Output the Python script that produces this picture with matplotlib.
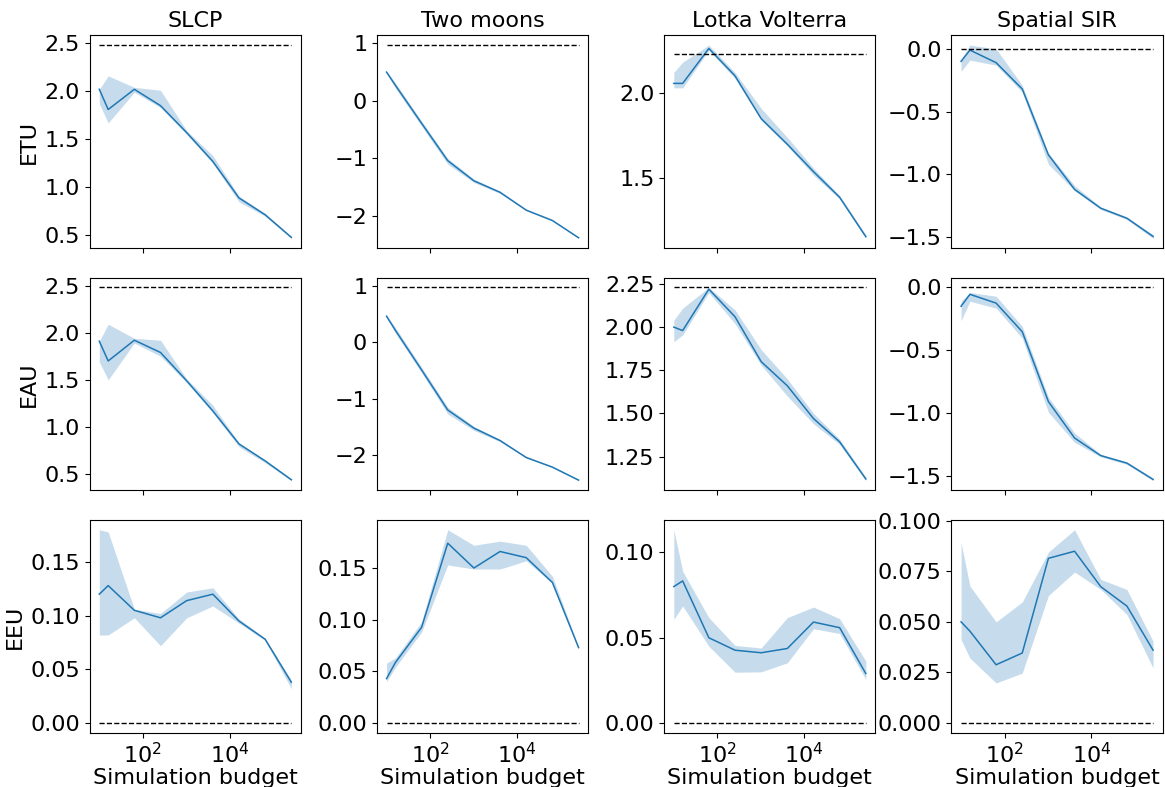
import numpy as np
import matplotlib
matplotlib.use("Agg")
import matplotlib.pyplot as plt
from matplotlib.ticker import NullLocator

plt.rcParams['font.size'] = 16

budgets = [10, 16, 64, 256, 1024, 4096, 16384, 65536, 262144]
tasks = ["SLCP", "Two moons", "Lotka Volterra", "Spatial SIR"]
metrics = ["ETU", "EAU", "EEU"]

# optimal utility (dashed reference line) per task, EEU optimum is 0
slcp_opt = 2.48
moons_opt = 0.97
lv_opt = 2.23
sir_opt = 0.0
eeu_opt = 0.0

# SLCP
slcp_etu_mean = [2.02, 1.81, 2.02, 1.85, 1.57, 1.27, 0.89, 0.715, 0.48]
slcp_etu_lo = [1.87, 1.67, 1.99, 1.83, 1.55, 1.25, 0.85, 0.70, 0.47]
slcp_etu_hi = [2.02, 2.16, 2.04, 2.01, 1.59, 1.33, 0.91, 0.73, 0.49]
slcp_eau_mean = [1.91, 1.70, 1.92, 1.79, 1.49, 1.17, 0.82, 0.64, 0.44]
slcp_eau_lo = [1.69, 1.50, 1.89, 1.75, 1.47, 1.15, 0.79, 0.62, 0.43]
slcp_eau_hi = [1.91, 2.09, 1.94, 1.92, 1.51, 1.23, 0.83, 0.65, 0.45]
slcp_eeu_mean = [0.120, 0.128, 0.105, 0.098, 0.114, 0.120, 0.095, 0.078, 0.038]
slcp_eeu_lo = [0.082, 0.082, 0.098, 0.072, 0.098, 0.109, 0.093, 0.077, 0.032]
slcp_eeu_hi = [0.180, 0.178, 0.106, 0.102, 0.122, 0.126, 0.097, 0.079, 0.040]

# Two moons
moons_etu_mean = [0.50, 0.27, -0.39, -1.04, -1.39, -1.59, -1.90, -2.08, -2.38]
moons_etu_lo = [0.48, 0.22, -0.44, -1.10, -1.42, -1.61, -1.91, -2.09, -2.39]
moons_etu_hi = [0.52, 0.31, -0.35, -1.00, -1.36, -1.57, -1.89, -2.07, -2.37]
moons_eau_mean = [0.46, 0.21, -0.49, -1.20, -1.52, -1.74, -2.04, -2.21, -2.44]
moons_eau_lo = [0.44, 0.16, -0.54, -1.27, -1.56, -1.76, -2.05, -2.22, -2.45]
moons_eau_hi = [0.48, 0.26, -0.44, -1.15, -1.49, -1.72, -2.03, -2.20, -2.43]
moons_eeu_mean = [0.043, 0.0586, 0.0926, 0.174, 0.150, 0.166, 0.160, 0.136, 0.073]
moons_eeu_lo = [0.040, 0.054, 0.088, 0.153, 0.149, 0.149, 0.157, 0.135, 0.072]
moons_eeu_hi = [0.058, 0.063, 0.098, 0.187, 0.172, 0.176, 0.172, 0.142, 0.074]

# Lotka Volterra
lv_etu_mean = [2.056, 2.056, 2.26, 2.10, 1.85, 1.70, 1.54, 1.39, 1.16]
lv_etu_lo = [2.03, 2.03, 2.25, 2.085, 1.84, 1.69, 1.52, 1.38, 1.15]
lv_etu_hi = [2.12, 2.18, 2.28, 2.12, 1.91, 1.74, 1.56, 1.40, 1.17]
lv_eau_mean = [2.00, 1.98, 2.22, 2.06, 1.80, 1.66, 1.47, 1.335, 1.12]
lv_eau_lo = [1.915, 1.955, 2.20, 2.02, 1.78, 1.60, 1.44, 1.32, 1.11]
lv_eau_hi = [2.04, 2.11, 2.23, 2.10, 1.87, 1.70, 1.50, 1.35, 1.13]
lv_eeu_mean = [0.080, 0.0833, 0.050, 0.0427, 0.0412, 0.0437, 0.0592, 0.0559, 0.029]
lv_eeu_lo = [0.0608, 0.0686, 0.045, 0.0298, 0.030, 0.0353, 0.0553, 0.0525, 0.0255]
lv_eeu_hi = [0.1133, 0.089, 0.0618, 0.0455, 0.044, 0.0618, 0.068, 0.0612, 0.0363]

# Spatial SIR
sir_etu_mean = [-0.10, -0.01, -0.11, -0.32, -0.845, -1.12, -1.27, -1.35, -1.495]
sir_etu_lo = [-0.18, -0.09, -0.13, -0.345, -0.92, -1.13, -1.28, -1.36, -1.51]
sir_etu_hi = [-0.085, 0.03, 0.0, -0.29, -0.83, -1.09, -1.26, -1.34, -1.48]
sir_eau_mean = [-0.15, -0.055, -0.125, -0.353, -0.91, -1.20, -1.34, -1.40, -1.53]
sir_eau_lo = [-0.265, -0.11, -0.165, -0.405, -0.995, -1.235, -1.35, -1.41, -1.54]
sir_eau_hi = [-0.11, -0.04, -0.07, -0.31, -0.875, -1.16, -1.33, -1.39, -1.52]
sir_eeu_mean = [0.050, 0.0454, 0.0288, 0.0346, 0.0814, 0.0849, 0.0674, 0.0578, 0.036]
sir_eeu_lo = [0.0412, 0.0321, 0.0198, 0.0247, 0.063, 0.0746, 0.066, 0.0536, 0.0272]
sir_eeu_hi = [0.0892, 0.0677, 0.050, 0.0598, 0.0845, 0.0955, 0.071, 0.066, 0.0404]

# y tick positions as shown in each panel
slcp_ticks = [0.5, 1.0, 1.5, 2.0, 2.5]
moons_ticks = [-2, -1, 0, 1]
sir_ticks = [-1.5, -1.0, -0.5, 0.0]
eeu_ticks_a = [0.00, 0.05, 0.10, 0.15]
lv_etu_ticks = [1.5, 2.0]
lv_eau_ticks = [1.25, 1.50, 1.75, 2.00, 2.25]
lv_eeu_ticks = [0.00, 0.05, 0.10]
sir_eeu_ticks = [0.000, 0.025, 0.050, 0.075, 0.100]

panels = [
    [(slcp_etu_mean, slcp_etu_lo, slcp_etu_hi, slcp_opt, slcp_ticks),
     (moons_etu_mean, moons_etu_lo, moons_etu_hi, moons_opt, moons_ticks),
     (lv_etu_mean, lv_etu_lo, lv_etu_hi, lv_opt, lv_etu_ticks),
     (sir_etu_mean, sir_etu_lo, sir_etu_hi, sir_opt, sir_ticks)],
    [(slcp_eau_mean, slcp_eau_lo, slcp_eau_hi, slcp_opt, slcp_ticks),
     (moons_eau_mean, moons_eau_lo, moons_eau_hi, moons_opt, moons_ticks),
     (lv_eau_mean, lv_eau_lo, lv_eau_hi, lv_opt, lv_eau_ticks),
     (sir_eau_mean, sir_eau_lo, sir_eau_hi, sir_opt, sir_ticks)],
    [(slcp_eeu_mean, slcp_eeu_lo, slcp_eeu_hi, eeu_opt, eeu_ticks_a),
     (moons_eeu_mean, moons_eeu_lo, moons_eeu_hi, eeu_opt, eeu_ticks_a),
     (lv_eeu_mean, lv_eeu_lo, lv_eeu_hi, eeu_opt, lv_eeu_ticks),
     (sir_eeu_mean, sir_eeu_lo, sir_eeu_hi, eeu_opt, sir_eeu_ticks)],
]

fig, axes = plt.subplots(3, 4, figsize=(11.65, 7.87), dpi=100, sharex=True)
fig.subplots_adjust(left=0.077, right=0.998, top=0.955, bottom=0.069,
                    wspace=0.36, hspace=0.14)

for i in range(3):
    for j in range(4):
        ax = axes[i, j]
        ax.set_xscale("log")
        mean, lo, hi, opt, yt = panels[i][j]
        ax.fill_between(budgets, lo, hi, color="tab:blue", alpha=0.25, lw=0)
        ax.plot(budgets, mean, color="tab:blue", lw=1.1)
        ax.hlines(opt, budgets[0], budgets[-1], colors="k",
                  linestyles="--", lw=1)
        ax.set_yticks(yt)
        if i == 0:
            ax.set_title(tasks[j], fontsize=16)
        if i == 2:
            ax.set_xlabel("Simulation budget", labelpad=0)
        if j == 0:
            ax.set_ylabel(metrics[i])

# log-space 5% margins around the budget range
span = budgets[-1] / budgets[0]
axes[0, 0].set_xlim(budgets[0] / span ** 0.05, budgets[-1] * span ** 0.05)
axes[0, 0].set_xticks([1e2, 1e4])
axes[0, 0].xaxis.set_minor_locator(NullLocator())

plt.savefig("out.png", dpi=100)
